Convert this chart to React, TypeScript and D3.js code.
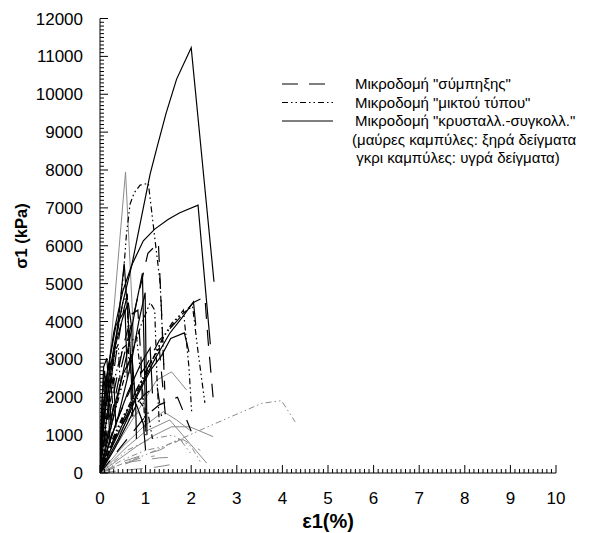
import React from "react";
import * as d3 from "d3";

type Pt = [number, number];
type Style = "dash" | "dashdot" | "solid";
interface Curve { style: Style; wet: boolean; pts: Pt[] }

const xTicks = [0, 1, 2, 3, 4, 5, 6, 7, 8, 9, 10];
const yTicks = [0, 1000, 2000, 3000, 4000, 5000, 6000, 7000, 8000, 9000, 10000, 11000, 12000];

const legendLabels = [
  'Μικροδομή "σύμπηξης"',
  'Μικροδομή "μικτού τύπου"',
  'Μικροδομή "κρυσταλλ.-συγκολλ."',
];
const legendNotes = ["(μαύρες καμπύλες: ξηρά δείγματα", " γκρι καμπύλες: υγρά δείγματα)"];

// dry samples - crystalline (solid, black)
const dryCrystal: Pt[][] = [
  [[0, 0], [0.05, 900], [0.15, 2200], [0.3, 3300], [0.5, 4500], [0.7, 5500], [0.9, 6700], [1.1, 7900], [1.25, 8600], [1.45, 9500], [1.68, 10400], [2.0, 11230], [2.5, 5050]],
  [[0, 0], [0.05, 1200], [0.15, 2500], [0.3, 3700], [0.5, 4800], [0.7, 5500], [0.95, 6130], [1.2, 6440], [1.5, 6700], [1.75, 6870], [2.15, 7070], [2.42, 3400]],
  [[0, 0], [0.2, 2000], [0.4, 4000], [0.53, 5530], [0.66, 3330], [0.72, 1500]],
  [[0, 0], [0.3, 1500], [0.6, 3200], [0.8, 4500], [0.93, 5270], [0.98, 2500], [1.0, 1200]],
  [[0, 0], [0.4, 1500], [0.7, 3000], [0.85, 4000], [0.99, 4760], [1.02, 2000], [1.03, 1000]],
  [[0, 0], [0.4, 900], [0.8, 2000], [1.1, 2700], [1.35, 3100], [1.55, 3550], [1.85, 3700], [1.95, 3200]],
  [[0, 0], [0.5, 1300], [0.9, 2300], [1.2, 3000], [1.53, 3690], [1.8, 4100], [2.05, 4520], [2.1, 3900]],
  [[0, 0], [0.03, 1500], [0.08, 2800], [0.15, 3030], [0.25, 1200]],
  [[0, 0], [0.1, 1500], [0.3, 3200], [0.5, 4100], [0.62, 4500], [0.7, 3800], [0.72, 2000]],
  [[0, 0], [0.05, 1600], [0.15, 2600], [0.35, 3900], [0.55, 4300], [0.6, 2500]],
  [[0, 0], [0.3, 600], [0.6, 1300], [0.8, 1800], [0.95, 1300], [1.0, 600]],
  [[0, 0], [0.02, 1000], [0.05, 2000], [0.1, 2700], [0.18, 1800], [0.22, 800]],
  [[0, 0], [0.03, 700], [0.08, 1500], [0.2, 2300], [0.3, 2500], [0.35, 1200]],
  [[0, 0], [0.1, 600], [0.3, 1700], [0.5, 2600], [0.7, 3100], [0.78, 1900], [0.8, 900]],
  [[0, 0], [0.2, 800], [0.6, 2100], [0.9, 2900], [1.1, 3300], [1.15, 2100]],
];

// dry samples - compaction (long dash, black)
const dryCompact: Pt[][] = [
  [[0, 0], [0.2, 1200], [0.45, 2700], [0.7, 4000], [0.9, 5000], [1.05, 5800], [1.28, 6080], [1.36, 4000], [1.42, 2200]],
  [[0, 0], [0.3, 1200], [0.7, 2300], [1.0, 2800], [1.3, 3500], [1.6, 3900], [1.9, 4300], [2.05, 4500], [2.3, 4650], [2.37, 3500], [2.48, 2000]],
  [[0, 0], [0.15, 1300], [0.35, 3100], [0.5, 4200], [0.6, 4700], [0.65, 3000], [0.7, 1500]],
  [[0, 0], [0.4, 1100], [0.8, 2200], [1.1, 2900], [1.3, 3300], [1.45, 1300]],
  [[0, 0], [0.25, 1800], [0.5, 3300], [0.7, 4200], [0.83, 4300], [0.9, 3000], [0.93, 1800]],
  [[0, 0], [0.6, 900], [1.0, 1500], [1.3, 1800], [1.7, 2000], [1.9, 1400], [2.0, 1100]],
  [[0, 0], [0.04, 1200], [0.1, 2400], [0.2, 2900], [0.3, 1500]],
  [[0, 0], [0.3, 900], [0.7, 1700], [1.0, 2100], [1.25, 2300], [1.35, 1500]],
];

// dry samples - mixed (dash-dot, black)
const dryMixed: Pt[][] = [
  [[0, 0], [0.2, 2000], [0.4, 4000], [0.51, 5200], [0.58, 6300], [0.66, 7100], [0.75, 7400], [0.88, 7600], [1.06, 7650], [1.32, 5000], [1.4, 2800]],
  [[0, 0], [0.4, 1200], [0.8, 2200], [1.15, 3000], [1.39, 3600], [1.6, 4000], [1.91, 4300], [2.03, 4400], [2.15, 3200], [2.3, 1850]],
  [[0, 0], [0.3, 1500], [0.6, 2800], [0.9, 3900], [1.1, 4500], [1.2, 4300], [1.25, 2500], [1.3, 1300]],
  [[0, 0], [0.15, 1800], [0.35, 3500], [0.5, 4500], [0.6, 4700], [0.63, 3000]],
  [[0, 0], [0.5, 1400], [1.0, 2600], [1.4, 3600], [1.7, 4100], [1.83, 4300], [1.95, 2800], [2.01, 1620]],
  [[0, 0], [0.1, 1000], [0.3, 2400], [0.5, 3300], [0.8, 3600], [0.95, 2000], [1.0, 1000]],
  [[0, 0], [0.03, 900], [0.1, 2000], [0.25, 3000], [0.4, 3400], [0.45, 2200]],
  [[0, 0], [0.2, 700], [0.5, 1500], [0.8, 2000], [1.05, 1600], [1.15, 900]],
];

// wet samples (grey)
const wetCrystal: Pt[][] = [
  [[0, 0], [0.5, 1000], [1.02, 2010], [1.24, 2450], [1.57, 2670], [1.9, 2190]],
  [[0, 0], [0.5, 700], [0.95, 1220], [1.39, 1620], [1.68, 1400], [1.97, 1130]],
  [[0, 0], [0.8, 700], [1.2, 1000], [1.57, 1220], [1.97, 1220], [2.48, 960]],
  [[0, 0], [0.56, 7950], [0.75, 3300]],
  [[0, 0], [0.6, 700], [1.0, 1100], [1.53, 1400], [2.34, 260]],
  [[0, 0], [0.3, 800], [0.6, 1400], [0.85, 1600], [1.0, 1200]],
];
const wetCompact: Pt[][] = [
  [[0, 0], [0.5, 300], [1.0, 500], [1.3, 600], [1.8, 900], [2.2, 600]],
  [[0, 0], [0.4, 200], [0.9, 400], [1.2, 450]],
  [[0, 0], [0.7, 300], [1.3, 400], [1.7, 420]],
  [[0, 0], [0.6, 80], [1.2, 150], [1.7, 250]],
];
const wetMixed: Pt[][] = [
  [[0, 0], [0.5, 250], [1.0, 480], [1.5, 750], [2.12, 1090], [2.8, 1450], [3.55, 1840], [3.98, 1910], [4.28, 1350]],
  [[0, 0], [0.6, 600], [1.1, 900], [1.6, 1000], [2.0, 700], [2.2, 300]],
  [[0, 0], [0.5, 350], [1.0, 600], [1.4, 700], [1.75, 900], [2.0, 500]],
];

const curves: Curve[] = [
  ...wetCrystal.map((pts) => ({ style: "solid" as Style, wet: true, pts })),
  ...wetCompact.map((pts) => ({ style: "dash" as Style, wet: true, pts })),
  ...wetMixed.map((pts) => ({ style: "dashdot" as Style, wet: true, pts })),
  ...dryCrystal.map((pts) => ({ style: "solid" as Style, wet: false, pts })),
  ...dryCompact.map((pts) => ({ style: "dash" as Style, wet: false, pts })),
  ...dryMixed.map((pts) => ({ style: "dashdot" as Style, wet: false, pts })),
];

const dashFor: Record<Style, string | undefined> = {
  dash: "16,11",
  dashdot: "6,3,1.5,3,1.5,3",
  solid: undefined,
};

export default function App() {
  const W = 592, H = 533;
  const x0 = 100, x1 = 556, yTop = 18.5, yBot = 473;
  const x = d3.scaleLinear().domain([0, 10]).range([x0, x1]);
  const y = d3.scaleLinear().domain([0, 12000]).range([yBot, yTop]);
  const line = d3.line<Pt>().x((d) => x(d[0])).y((d) => y(d[1]));
  const font = "Arial, 'Liberation Sans', Helvetica, sans-serif";
  const xMinor = d3.range(0, 100).map((i) => i / 10);
  const yMinor = d3.range(0, 120).map((i) => i * 100);

  const legendY = [84, 102.5, 121];
  const legendStyles: Style[] = ["dash", "dashdot", "solid"];

  return (
    <svg width={W} height={H} style={{ position: "absolute", left: 0, top: 0 }} fontFamily={font}>
      <rect width={W} height={H} fill="#fff" />
      <defs>
        <clipPath id="plot">
          <rect x={x0} y={yTop - 5} width={x1 - x0} height={yBot - yTop + 5} />
        </clipPath>
      </defs>
      <g clipPath="url(#plot)" fill="none">
        {curves.map((c, i) => (
          <path
            key={i}
            d={line(c.pts) || ""}
            stroke={c.wet ? "#8a8a8a" : "#000"}
            strokeWidth={c.wet ? 1 : 1.2}
            strokeDasharray={dashFor[c.style]}
          />
        ))}
      </g>
      {/* axes */}
      <g stroke="#000" strokeWidth={1}>
        <line x1={x0} x2={x0} y1={yTop} y2={yBot} />
        <line x1={x0} x2={x1} y1={yBot} y2={yBot} />
        {yMinor.map((v) => (
          <line key={"ym" + v} x1={x0} x2={x0 + (v % 1000 === 0 ? 8 : 4)} y1={y(v)} y2={y(v)} />
        ))}
        <line x1={x0} x2={x0 + 8} y1={y(12000)} y2={y(12000)} />
        {xMinor.map((v) => (
          <line key={"xm" + v} x1={x(v)} x2={x(v)} y1={yBot} y2={yBot - (Math.abs(v - Math.round(v)) < 1e-9 ? 8 : 4)} />
        ))}
        <line x1={x(10)} x2={x(10)} y1={yBot} y2={yBot - 8} />
      </g>
      {yTicks.map((v) => (
        <text key={"yt" + v} x={83} y={y(v) + 6} fontSize={17} textAnchor="end" fill="#000">
          {v}
        </text>
      ))}
      {xTicks.map((v) => (
        <text key={"xt" + v} x={x(v)} y={504} fontSize={17} textAnchor="middle" fill="#000">
          {v}
        </text>
      ))}
      <text x={(x0 + x1) / 2} y={528} fontSize={20} fontWeight="bold" textAnchor="middle">
        ε1(%)
      </text>
      <text
        transform={`translate(27,236) rotate(-90)`}
        fontSize={16.5}
        fontWeight="bold"
        textAnchor="middle"
      >
        σ1 (kPa)
      </text>
      {/* legend */}
      {legendStyles.map((s, i) => (
        <g key={"lg" + i}>
          <line x1={282} x2={333} y1={legendY[i]} y2={legendY[i]} stroke="#000" strokeWidth={1.2} strokeDasharray={dashFor[s]} />
          <text x={355} y={legendY[i] + 5} fontSize={15} fill="#000">
            {legendLabels[i]}
          </text>
        </g>
      ))}
      {legendNotes.map((t, i) => (
        <text key={"ln" + i} x={352} y={139.5 + i * 18.5 + 5} fontSize={15} fill="#000" style={{ whiteSpace: "pre" }}>
          {t}
        </text>
      ))}
    </svg>
  );
}
